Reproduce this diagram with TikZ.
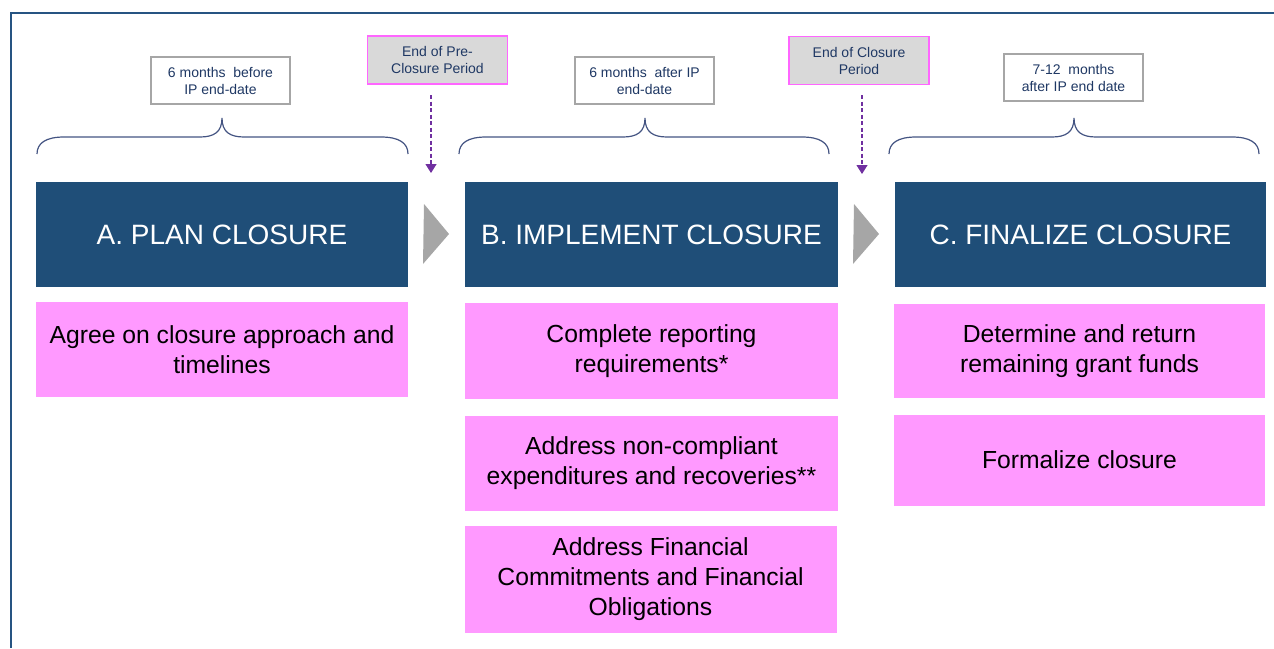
\documentclass[tikz,border=0pt]{standalone}
\usepackage{fontspec}
\setmainfont{Liberation Sans}
\usetikzlibrary{arrows.meta}
\definecolor{framec}{RGB}{38,84,130}
\definecolor{navy}{RGB}{31,78,120}
\definecolor{pinkf}{RGB}{255,153,255}
\definecolor{labtext}{RGB}{31,56,100}
\definecolor{labgray}{RGB}{166,166,166}
\definecolor{mark}{RGB}{217,217,217}
\definecolor{markb}{RGB}{255,102,255}
\definecolor{purp}{RGB}{112,48,160}
\definecolor{bracec}{RGB}{68,84,130}
\definecolor{chev}{RGB}{166,166,166}
\tikzset{
  phase/.style={fill=navy, draw=none, text=white, inner sep=0pt, align=center,
    minimum height=105pt, font=\fontsize{28}{33}\selectfont},
  task/.style={fill=pinkf, draw=none, text=black, inner sep=0pt, align=center,
    font=\fontsize{24.7}{30}\selectfont},
  period/.style={fill=white, draw=labgray, line width=1.2pt, text=labtext, inner sep=0pt,
    align=center, minimum width=139pt, minimum height=47pt, font=\fontsize{14}{17}\selectfont},
  milestone/.style={fill=mark, draw=markb, line width=1.2pt, text=labtext, inner sep=0pt,
    align=center, minimum width=140pt, minimum height=48pt, font=\fontsize{14}{17}\selectfont},
  dasharrow/.style={draw=purp, line width=1.2pt, dash pattern=on 4pt off 2.5pt,
    -{Triangle[length=9pt,width=11pt]}},
  bracepath/.style={draw=bracec, line width=1.2pt},
  chevron/.style={fill=chev, draw=none}
}
\begin{document}
\begin{tikzpicture}[x=1pt, y=-1pt]
\useasboundingbox (0,0) rectangle (1274,648);
% frame
\draw[framec, line width=2.6pt] (11,648) -- (11,13) -- (1274,13);

% phase boxes
\node[phase, minimum width=372pt] (pa) at (222,234.5) {A. PLAN CLOSURE};
\node[phase, minimum width=373pt] (pb) at (651.5,234.5) {B. IMPLEMENT CLOSURE};
\node[phase, minimum width=371pt] (pc) at (1080.5,234.5) {C. FINALIZE CLOSURE};

% tasks
\node[task, minimum width=372pt, minimum height=95pt] (a1) at (222,349.5) {Agree on closure approach and\\timelines};
\node[task, minimum width=373pt, minimum height=96pt] (b1) at (651.5,351) {Complete reporting\\requirements*};
\node[task, minimum width=373pt, minimum height=95pt] (b2) at (651.5,463.5) {Address non-compliant\\expenditures and recoveries**};
\node[task, minimum width=372pt, minimum height=107pt] (b3) at (650.5,579.5) {Address Financial\\Commitments and Financial\\Obligations};
\node[task, minimum width=371pt, minimum height=94pt] (c1) at (1079.5,351) {Determine and return\\remaining grant funds};
\node[task, minimum width=371pt, minimum height=91pt] (c2) at (1079.5,460) {Formalize closure};

% period labels
\node[period] (p1) at (220.5,80.5) {6 months\ \ before\\IP end-date};
\node[period] (p2) at (644.5,80.5) {6 months\ \ after IP\\end-date};
\node[period] (p3) at (1073.5,77.5) {7-12\ \ months\\after IP end date};

% milestones
\node[milestone] (m1) at (437.5,60) {End of Pre-\\Closure Period};
\node[milestone] (m2) at (859,60.5) {End of Closure\\Period};

% milestone arrows
\coordinate (m1s) at (431,95);
\coordinate (m1e) at (431,173);
\coordinate (m2s) at (862,95);
\coordinate (m2e) at (862,174);
\draw[dasharrow] (m1s) -- (m1e);
\draw[dasharrow] (m2s) -- (m2e);

% chevrons
\fill[chevron] (424,204) -- (449,234) -- (423,264) -- cycle;
\fill[chevron] (854,204) -- (879,234) -- (853,264) -- cycle;

% braces
\foreach \xa/\xm/\xb in {37/222/408, 459/645/829, 889/1074/1259}{
  \draw[bracepath] (\xa,154) .. controls (\xa,143) and (\xa+9,137) .. (\xa+27,137)
    -- (\xm-22,137) .. controls (\xm-8,137) and (\xm,132) .. (\xm,118)
    .. controls (\xm,132) and (\xm+8,137) .. (\xm+22,137)
    -- (\xb-27,137) .. controls (\xb-9,137) and (\xb,143) .. (\xb,154);
}
\end{tikzpicture}
\end{document}
